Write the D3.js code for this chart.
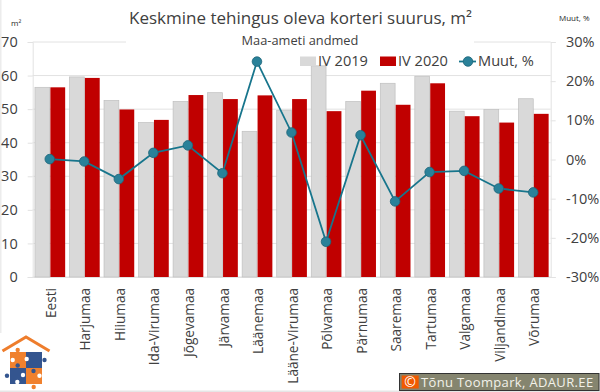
<!DOCTYPE html>
<html><head><meta charset="utf-8">
<script src="https://cdn.jsdelivr.net/npm/d3@7"></script>
<style>html,body{margin:0;padding:0;background:#fff}svg{display:block}text{font-family:"Open Sans",sans-serif}</style>
</head><body><svg id="c" width="600" height="392"></svg>
<script>
const categories=["Eesti","Harjumaa","Hiiumaa","Ida-Virumaa","Jõgevamaa","Järvamaa","Läänemaa","Lääne-Virumaa","Põlvamaa","Pärnumaa","Saaremaa","Tartumaa","Valgamaa","Viljandimaa","Võrumaa"];
const iv2019=[56.5,59.6,52.6,46,52.3,54.9,43.4,49.7,62.9,52.3,57.7,59.8,49.4,49.9,53.1];
const iv2020=[56.5,59.3,49.9,46.8,54.2,53,54.1,53,49.4,55.5,51.3,57.7,47.9,46,48.6];
const muut=[0.1,-0.5,-5,1.7,3.6,-3.5,25,6.9,-21,6.2,-10.7,-3.2,-2.9,-7.4,-8.4];
const leftTicks=[0,10,20,30,40,50,60,70];
const rightTicks=[-30,-20,-10,0,10,20,30];
const svg=d3.select("#c");
const L=32.7,R=550.7,T=42,B=277;
const x=d3.scaleBand().domain(categories).range([L,R]);
const y=d3.scaleLinear().domain([0,70]).range([B,T]);
const yr=d3.scaleLinear().domain([-30,30]).range([B,T]);
const barW=14.8;
const gridC="#e2e2e2",txt="#404040";
svg.append("rect").attr("width",600).attr("height",392).attr("fill","#fff");
svg.append("rect").attr("x",0).attr("y",0).attr("width",1.5).attr("height",333).attr("fill","#ececec");
svg.append("rect").attr("x",0).attr("y",390.5).attr("width",600).attr("height",1.5).attr("fill","#e6e6e6");
svg.append("g").selectAll("line").data(leftTicks).join("line")
 .attr("x1",L).attr("x2",R).attr("y1",d=>y(d)).attr("y2",d=>y(d)).attr("stroke",gridC).attr("stroke-width",1);
const la=svg.append("g").attr("transform",`translate(${L},0)`).call(d3.axisLeft(y).tickValues(leftTicks).tickSize(5).tickPadding(10).tickFormat(d3.format("d")));
const ra=svg.append("g").attr("transform",`translate(${R},0)`).call(d3.axisRight(yr).tickValues(rightTicks).tickSize(5).tickPadding(10.3).tickFormat(d=>d+"%"));
const ba=svg.append("g").attr("transform",`translate(0,${B})`).call(d3.axisBottom(x).tickSize(0).tickPadding(0));
[la,ra,ba].forEach(a=>{a.select(".domain").attr("stroke",gridC);a.selectAll("line").attr("stroke",gridC);a.selectAll("text").attr("fill",txt)});
la.selectAll("text").attr("font-size",14.5);
ra.selectAll("text").attr("font-size",14.5);
ba.selectAll("text").attr("font-size",13.6).attr("text-anchor","end")
  .attr("transform","translate(1,11) rotate(-90)").attr("x",0).attr("y",0).attr("dy","0.36em");
svg.append("rect").attr("x",126).attr("y",30).attr("width",348).attr("height",14).attr("fill","#fff");
svg.append("g").selectAll("rect").data(categories).join("rect")
 .attr("x",d=>x(d)+x.bandwidth()/2-barW-0.2).attr("width",barW)
 .attr("y",(d,i)=>y(iv2019[i])).attr("height",(d,i)=>B-y(iv2019[i]))
 .attr("fill","#d9d9d9").attr("stroke","#bfbfbf").attr("stroke-width",0.7);
svg.append("g").selectAll("rect").data(categories).join("rect")
 .attr("x",d=>x(d)+x.bandwidth()/2+0.4).attr("width",barW)
 .attr("y",(d,i)=>y(iv2020[i])).attr("height",(d,i)=>B-y(iv2020[i]))
 .attr("fill","#c00000");
const lineC="#17758c",dotC="#2a8199";
const line=d3.line().x(d=>x(d)+x.bandwidth()/2-0.2).y((d,i)=>yr(muut[i]));
svg.append("path").attr("d",line(categories)).attr("fill","none").attr("stroke",lineC).attr("stroke-width",1.8);
svg.append("g").selectAll("circle").data(categories).join("circle")
 .attr("cx",d=>x(d)+x.bandwidth()/2-0.2).attr("cy",(d,i)=>yr(muut[i])).attr("r",4.8)
 .attr("fill",dotC).attr("stroke","#1c6478").attr("stroke-width",0.8);
svg.append("text").attr("x",300.5).attr("y",24).attr("text-anchor","middle").attr("font-size",17).attr("fill",txt).text("Keskmine tehingus oleva korteri suurus, m²");
svg.append("text").attr("x",300).attr("y",44.5).attr("text-anchor","middle").attr("font-size",12.8).attr("fill",txt).text("Maa-ameti andmed");
svg.append("text").attr("x",11).attr("y",26).attr("font-size",8).attr("fill","#262626").text("m²");
svg.append("text").attr("x",559).attr("y",20.5).attr("font-size",8).attr("fill","#262626").text("Muut, %");
const lg=svg.append("g");
lg.append("rect").attr("x",300).attr("y",56.5).attr("width",16).attr("height",9.5).attr("fill","#d9d9d9");
lg.append("text").attr("x",318).attr("y",66).attr("font-size",14.6).attr("fill",txt).text("IV 2019");
lg.append("rect").attr("x",380).attr("y",56.5).attr("width",16).attr("height",9.5).attr("fill","#c00000");
lg.append("text").attr("x",398).attr("y",66).attr("font-size",14.6).attr("fill",txt).text("IV 2020");
lg.append("line").attr("x1",459).attr("x2",476).attr("y1",61.5).attr("y2",61.5).attr("stroke",lineC).attr("stroke-width",1.8);
lg.append("circle").attr("cx",468).attr("cy",61.5).attr("r",4.8).attr("fill",dotC).attr("stroke","#1c6478").attr("stroke-width",0.8);
lg.append("text").attr("x",478).attr("y",66).attr("font-size",14.6).attr("fill",txt).text("Muut, %");
const cb=svg.append("g");
cb.append("rect").attr("x",399.5).attr("y",373.5).attr("width",199.5).attr("height",17).attr("fill","#85856f").attr("stroke","#333");
cb.append("rect").attr("x",401.7).attr("y",375.5).attr("width",17).attr("height",13).attr("fill","#f05a00");
cb.append("text").attr("x",410.2).attr("y",387).attr("text-anchor","middle").attr("font-size",14).attr("fill","#fff").text("©");
cb.append("text").attr("x",421).attr("y",387).attr("font-size",13).attr("fill","#f2f2ea").attr("letter-spacing",0.35).text("Tõnu Toompark, ADAUR.EE");
const lo=svg.append("g");
lo.append("path").attr("d","M2.5,351 L26,337 L49.5,351").attr("fill","none").attr("stroke","#ee7d2c").attr("stroke-width",3);
const oc="#f0812e",bc="#34558f";
lo.append("rect").attr("x",10).attr("y",352).attr("width",16).attr("height",16).attr("fill",oc);
lo.append("rect").attr("x",26).attr("y",352).attr("width",16).attr("height",16).attr("fill",bc);
lo.append("rect").attr("x",10).attr("y",368).attr("width",16).attr("height",16).attr("fill",bc);
lo.append("rect").attr("x",26).attr("y",368).attr("width",16).attr("height",16).attr("fill",oc);
[[17.7,350,oc],[44.5,360,bc],[7,375.7,bc],[33.7,387,oc],[17.7,365.5,bc],[33.5,371,bc]].forEach(p=>lo.append("circle").attr("cx",p[0]).attr("cy",p[1]).attr("r",2.2).attr("fill",p[2]));
[[12.7,360],[26.7,359],[39.5,375.7],[17.3,382],[23,375]].forEach(p=>lo.append("circle").attr("cx",p[0]).attr("cy",p[1]).attr("r",2.2).attr("fill","#fff"));
</script></body></html>
